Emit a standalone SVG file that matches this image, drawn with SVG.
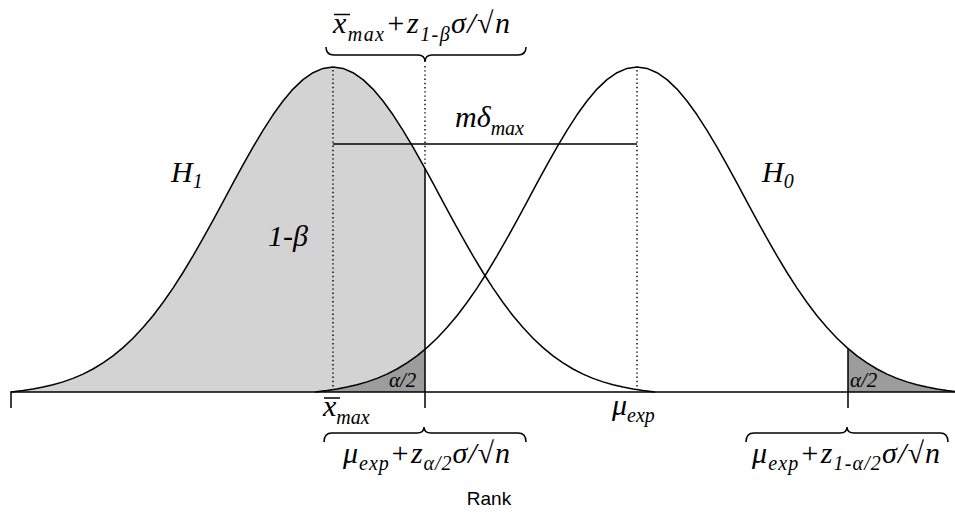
<svg xmlns="http://www.w3.org/2000/svg" width="955" height="515" viewBox="0 0 955 515">
<style>
.curve{fill:none;stroke:#000;stroke-width:1.5;stroke-linejoin:round}
.ln{fill:none;stroke:#000;stroke-width:1.5}
.dot{fill:none;stroke:#000;stroke-width:1.4;stroke-dasharray:1.4 2.8}
.light{fill:#d3d3d3;stroke:none}
.dark{fill:#9c9c9c;stroke:none}
.m{font-family:"Liberation Serif","Times New Roman",serif;font-style:italic;font-size:30px;fill:#000}
.s{font-size:20px}
.sm{font-family:"Liberation Serif","Times New Roman",serif;font-style:italic;font-size:21px;fill:#000}
.rank{font-family:"Liberation Sans",Arial,sans-serif;font-size:19px;fill:#000}
</style>
<g id="areas">
<path class="light" d="M11 392 L13 391.8 L23 390.6 L33 389.1 L43 387.1 L53 384.8 L63 381.9 L73 378.4 L83 374.1 L93 369 L103 362.9 L113 355.9 L123 347.6 L133 338.2 L143 327.6 L153 315.8 L163 302.5 L173 288.1 L183 272.5 L193 255.9 L203 238.4 L213 220.3 L223 201.9 L233 183.2 L243 164.8 L253 147.1 L263 130.3 L273 114.8 L283 101 L293 89.1 L303 79.6 L313 72.7 L323 68.4 L333 67 L343 68.4 L353 72.7 L363 79.6 L373 89.1 L383 101 L393 114.8 L403 130.3 L413 147.1 L423 164.8 L425 168.5 L425 392 Z"/>
<path class="dark" d="M315 392 L317 391.8 L327 390.6 L337 389.1 L347 387.1 L357 384.8 L367 381.9 L377 378.4 L387 374.1 L397 369 L407 362.9 L417 355.9 L425 349.3 L425 392 Z"/>
<path class="dark" d="M848 392 L848 348.4 L857 355.9 L867 362.9 L877 369 L887 374.1 L897 378.4 L907 381.9 L917 384.8 L927 387.1 L937 389.1 L947 390.6 L955 391.6 L955 392 Z"/>
</g>
<g id="H1-curve">
<path class="curve" d="M11 392 L13 391.8 L23 390.6 L33 389.1 L43 387.1 L53 384.8 L63 381.9 L73 378.4 L83 374.1 L93 369 L103 362.9 L113 355.9 L123 347.6 L133 338.2 L143 327.6 L153 315.8 L163 302.5 L173 288.1 L183 272.5 L193 255.9 L203 238.4 L213 220.3 L223 201.9 L233 183.2 L243 164.8 L253 147.1 L263 130.3 L273 114.8 L283 101 L293 89.1 L303 79.6 L313 72.7 L323 68.4 L333 67 L343 68.4 L353 72.7 L363 79.6 L373 89.1 L383 101 L393 114.8 L403 130.3 L413 147.1 L423 164.8 L433 183.2 L443 201.9 L453 220.3 L463 238.4 L473 255.9 L483 272.5 L493 288.1 L503 302.5 L513 315.8 L523 327.6 L533 338.2 L543 347.6 L553 355.9 L563 362.9 L573 369 L583 374.1 L593 378.4 L603 381.9 L613 384.8 L623 387.1 L633 389.1 L643 390.6 L653 391.8 L655 392"/>
</g>
<g id="H0-curve">
<path class="curve" d="M315 392 L317 391.8 L327 390.6 L337 389.1 L347 387.1 L357 384.8 L367 381.9 L377 378.4 L387 374.1 L397 369 L407 362.9 L417 355.9 L427 347.6 L437 338.2 L447 327.6 L457 315.8 L467 302.5 L477 288.1 L487 272.5 L497 255.9 L507 238.4 L517 220.3 L527 201.9 L537 183.2 L547 164.8 L557 147.1 L567 130.3 L577 114.8 L587 101 L597 89.1 L607 79.6 L617 72.7 L627 68.4 L637 67 L647 68.4 L657 72.7 L667 79.6 L677 89.1 L687 101 L697 114.8 L707 130.3 L717 147.1 L727 164.8 L737 183.2 L747 201.9 L757 220.3 L767 238.4 L777 255.9 L787 272.5 L797 288.1 L807 302.5 L817 315.8 L827 327.6 L837 338.2 L847 347.6 L857 355.9 L867 362.9 L877 369 L887 374.1 L897 378.4 L907 381.9 L917 384.8 L927 387.1 L937 389.1 L947 390.6 L957 391.8"/>
</g>
<g id="connectors">
<line class="ln" x1="11" y1="392" x2="955" y2="392"/>
<line class="ln" x1="11" y1="391.3" x2="11" y2="408"/>
<line class="ln" x1="425" y1="168.5" x2="425" y2="408"/>
<line class="ln" x1="848" y1="348.4" x2="848" y2="408"/>
<line class="ln" x1="333" y1="144" x2="637" y2="144"/>
<line class="dot" x1="333" y1="70" x2="333" y2="390"/>
<line class="dot" x1="637" y1="70" x2="637" y2="390"/>
<line class="dot" x1="425" y1="66" x2="425" y2="166"/>
<path class="ln" d="M326 47 Q326 55 334 55 L418 55 Q425 55 425 62 Q425 55 432 55 L518 55 Q526 55 526 47"/>
<path class="ln" d="M324 442 Q324 433 332 433 L417 433 Q424 433 424 427 Q424 433 431 433 L518 433 Q526 433 526 442"/>
<path class="ln" d="M746 442 Q746 433 754 433 L840 433 Q847 433 847 427 Q847 433 854 433 L940 433 Q948 433 948 442"/>
</g>
<g id="label-top">
<text class="m" x="333" y="33" textLength="177" lengthAdjust="spacing">x<tspan class="s" dy="8">max</tspan><tspan dy="-8">+z</tspan><tspan class="s" dy="8">1-β</tspan><tspan dy="-8">σ/√n</tspan></text>
<line class="ln" x1="334" y1="14.5" x2="350" y2="14.5"/>
</g>
<g id="label-H1"><text class="m" x="171" y="182">H<tspan class="s" dy="6">1</tspan></text></g>
<g id="label-H0"><text class="m" x="762" y="182">H<tspan class="s" dy="6">0</tspan></text></g>
<g id="label-power"><text class="m" x="268" y="246">1-β</text></g>
<g id="label-delta"><text class="m" x="455" y="127">mδ<tspan class="s" dy="8">max</tspan></text></g>
<g id="label-alpha-left"><text class="sm" x="389" y="387">α/2</text></g>
<g id="label-alpha-right"><text class="sm" x="850" y="387">α/2</text></g>
<g id="label-xmax">
<text class="m" x="323" y="416">x<tspan class="s" dy="8">max</tspan></text>
<line class="ln" x1="324" y1="398" x2="340" y2="398"/>
</g>
<g id="label-mu"><text class="m" x="612" y="415">μ<tspan class="s" dy="7">exp</tspan></text></g>
<g id="label-bottom-left">
<text class="m" x="343" y="463" textLength="167" lengthAdjust="spacing">μ<tspan class="s" dy="7">exp</tspan><tspan dy="-7">+z</tspan><tspan class="s" dy="7">α/2</tspan><tspan dy="-7">σ/√n</tspan></text>
</g>
<g id="label-bottom-right">
<text class="m" x="752" y="463" textLength="188" lengthAdjust="spacing">μ<tspan class="s" dy="7">exp</tspan><tspan dy="-7">+z</tspan><tspan class="s" dy="7">1-α/2</tspan><tspan dy="-7">σ/√n</tspan></text>
</g>
<g id="label-rank"><text class="rank" x="489" y="505" text-anchor="middle">Rank</text></g>
</svg>
